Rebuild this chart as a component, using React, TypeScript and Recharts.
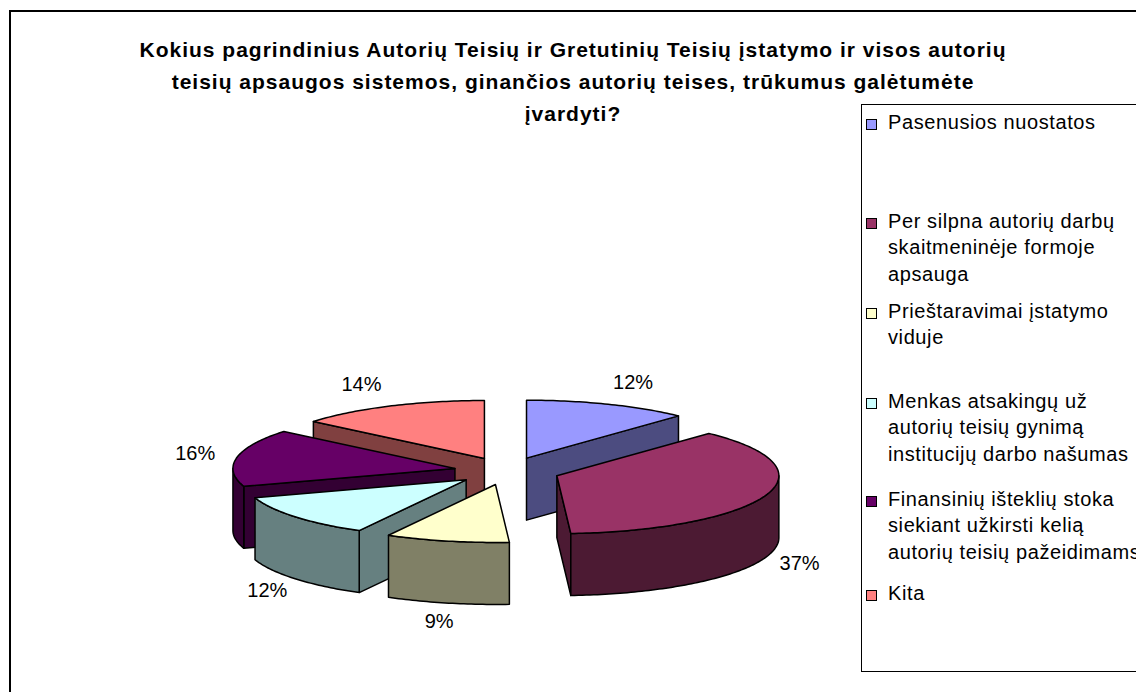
import React from 'react';
import { PieChart, Pie } from 'recharts';

const categories = [
  'Pasenusios nuostatos',
  'Per silpna autorių darbų skaitmeninėje formoje apsauga',
  'Prieštaravimai įstatymo viduje',
  'Menkas atsakingų už autorių teisių gynimą institucijų darbo našumas',
  'Finansinių išteklių stoka siekiant užkirsti kelią autorių teisių pažeidimams',
  'Kita',
];
const shares = [12, 37, 9, 12, 16, 14];
const percentLabels = ['12%', '37%', '9%', '12%', '16%', '14%'];
const legendLines = [
  ['Pasenusios nuostatos'],
  ['Per silpna autorių darbų', 'skaitmeninėje formoje', 'apsauga'],
  ['Prieštaravimai įstatymo', 'viduje'],
  ['Menkas atsakingų už', 'autorių teisių gynimą', 'institucijų darbo našumas'],
  ['Finansinių išteklių stoka', 'siekiant užkirsti kelią', 'autorių teisių pažeidimams'],
  ['Kita'],
];
const titleLines = [
  'Kokius pagrindinius Autorių Teisių ir Gretutinių Teisių įstatymo ir visos autorių',
  'teisių apsaugos sistemos, ginančios autorių teises, trūkumus galėtumėte',
  'įvardyti?',
];

const topColors = ['#9999FF', '#993366', '#FFFFCC', '#CCFFFF', '#660066', '#FF8080'];
const sideColors = ['#4C4C80', '#4C1A33', '#808066', '#668080', '#330033', '#804040'];
// painter's order: back slices first
const drawOrder = [0, 5, 4, 1, 3, 2];
const legendBaselines = [129, 228, 318, 408, 506, 600];

const data = categories.map((name, i) => ({ name, value: shares[i] }));

const FONT = '"Liberation Sans", Arial, sans-serif';
const RAD = Math.PI / 180;
const TILT = 0.261;
const DEPTH = 62;
const EXPLODE = 53;
const CX = 507;
const CY = 471;
const RADIUS = 222;

type P = [number, number];

function proj(ox: number, oy: number, r: number, deg: number): P {
  return [ox + r * Math.cos(deg * RAD), oy - r * TILT * Math.sin(deg * RAD)];
}
function arcPts(ox: number, oy: number, r: number, from: number, to: number, dy = 0): P[] {
  const n = Math.max(2, Math.ceil(Math.abs(to - from)));
  const pts: P[] = [];
  for (let k = 0; k <= n; k++) {
    const a = from + ((to - from) * k) / n;
    const p = proj(ox, oy, r, a);
    pts.push([p[0], p[1] + dy]);
  }
  return pts;
}
const toPath = (pts: P[]) =>
  'M' + pts.map((p) => `${p[0].toFixed(2)},${p[1].toFixed(2)}`).join('L') + 'Z';

function slice3D(props: any, i: number) {
  const { cx, cy, outerRadius, startAngle, endAngle, midAngle } = props;
  const r = outerRadius;
  const ox = cx + EXPLODE * Math.cos(midAngle * RAD);
  const oy = cy - EXPLODE * TILT * Math.sin(midAngle * RAD);
  const hi = Math.max(startAngle, endAngle);
  const lo = Math.min(startAngle, endAngle);
  const walls: P[][] = [];
  if (Math.cos(hi * RAD) < -1e-6) {
    const p = proj(ox, oy, r, hi);
    walls.push([[ox, oy], p, [p[0], p[1] + DEPTH], [ox, oy + DEPTH]]);
  }
  if (Math.cos(lo * RAD) > 1e-6) {
    const p = proj(ox, oy, r, lo);
    walls.push([[ox, oy], p, [p[0], p[1] + DEPTH], [ox, oy + DEPTH]]);
  }
  for (let k = -2; k <= 2; k++) {
    const a = Math.max(lo, -180 + 360 * k);
    const b = Math.min(hi, 360 * k);
    if (b - a > 0.01) {
      walls.push([...arcPts(ox, oy, r, a, b), ...arcPts(ox, oy, r, b, a, DEPTH)]);
    }
  }
  const topPts: P[] = [[ox, oy], ...arcPts(ox, oy, r, hi, lo)];
  return (
    <g>
      {walls.map((w, j) => (
        <path key={j} d={toPath(w)} fill={sideColors[i]} stroke="#000" strokeWidth={1.5} strokeLinejoin="round" />
      ))}
      <path d={toPath(topPts)} fill={topColors[i]} stroke="#000" strokeWidth={1.5} strokeLinejoin="round" />
    </g>
  );
}

const sliceLabel = (target: number) => (props: any) => {
  if (props.index !== target) return null;
  return slice3D(props, target);
};

const percentLabel = (props: any) => {
  const { cx, cy, midAngle, outerRadius, index } = props;
  const c = Math.cos(midAngle * RAD);
  const s = Math.sin(midAngle * RAD);
  const f = -s;
  const rx = outerRadius + EXPLODE + 36 + 34 * Math.max(0, s);
  const x = cx + rx * c;
  const y = cy + (outerRadius + EXPLODE) * TILT * f + (f > 0 ? DEPTH + 18 * f : 24 * f);
  return (
    <text x={x} y={y} textAnchor="middle" dominantBaseline="central" fontSize={20} fontFamily={FONT} fill="#000">
      {percentLabels[index]}
    </text>
  );
};

export default function App() {
  return (
    <div style={{ position: 'absolute', left: 0, top: 0, width: 1136, height: 692, overflow: 'hidden', background: '#fff' }}>
      <div style={{ position: 'absolute', left: 9, top: 10, width: 1300, height: 900, border: '2px solid #000' }} />
      <div style={{ position: 'absolute', left: 0, top: 0 }}>
        <PieChart width={1136} height={692} margin={{ top: 0, right: 0, bottom: 0, left: 0 }}>
          {drawOrder.map((idx) => (
            <Pie
              key={`slice-${idx}`}
              data={data}
              dataKey="value"
              nameKey="name"
              cx={CX}
              cy={CY}
              innerRadius={0}
              outerRadius={RADIUS}
              startAngle={90}
              endAngle={-270}
              fill="none"
              stroke="none"
              legendType="none"
              isAnimationActive={false}
              labelLine={false}
              label={sliceLabel(idx)}
            />
          ))}
          <Pie
            key="pct"
            data={data}
            dataKey="value"
            nameKey="name"
            cx={CX}
            cy={CY}
            innerRadius={0}
            outerRadius={RADIUS}
            startAngle={90}
            endAngle={-270}
            fill="none"
            stroke="none"
            legendType="none"
            isAnimationActive={false}
            labelLine={false}
            label={percentLabel}
          />
        </PieChart>
      </div>
      <div
        style={{
          position: 'absolute',
          left: 73,
          top: 34,
          width: 1000,
          textAlign: 'center',
          fontFamily: FONT,
          fontWeight: 'bold',
          fontSize: 21,
          lineHeight: '32px',
          letterSpacing: '1px',
          color: '#000',
        }}
      >
        {titleLines.map((t, i) => (
          <div key={i}>{t}</div>
        ))}
      </div>
      <div style={{ position: 'absolute', left: 861, top: 104, width: 400, height: 566, border: '1px solid #000', background: '#fff' }} />
      {legendLines.map((lines, i) => (
        <React.Fragment key={i}>
          <div
            style={{
              position: 'absolute',
              left: 866,
              top: legendBaselines[i] - 10,
              width: 9,
              height: 9,
              border: '1px solid #000',
              background: topColors[i],
            }}
          />
          <div
            style={{
              position: 'absolute',
              left: 888,
              top: legendBaselines[i] - 20.2,
              fontFamily: FONT,
              fontSize: 20,
              lineHeight: '26.5px',
              letterSpacing: '0.6px',
              whiteSpace: 'nowrap',
              color: '#000',
            }}
          >
            {lines.map((l, j) => (
              <div key={j}>{l}</div>
            ))}
          </div>
        </React.Fragment>
      ))}
    </div>
  );
}
